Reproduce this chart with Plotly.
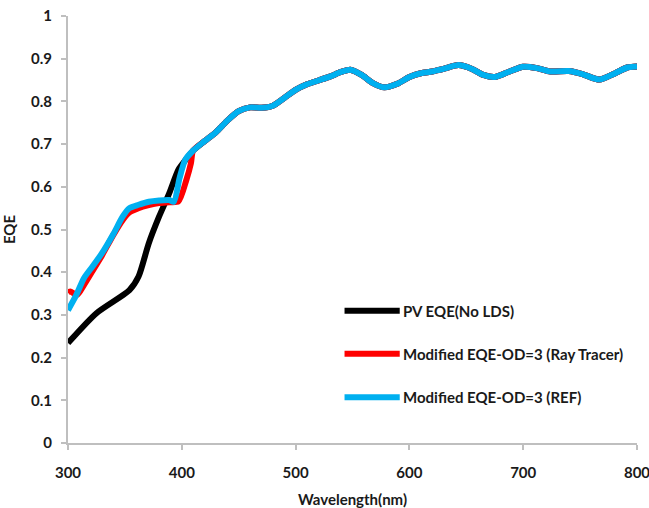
import plotly.graph_objects as go

# Shared upper part (all three curves coincide above ~410 nm)
wl_common = [410, 420, 430, 440, 450, 460, 470, 480, 490, 500, 510, 520, 530, 540, 548,
             558, 568, 578, 590, 600, 610, 620, 630, 643, 655, 665, 675, 688, 700, 712,
             724, 740, 752, 767, 780, 792, 800]
eqe_common = [0.685, 0.707, 0.728, 0.755, 0.777, 0.786, 0.785, 0.790, 0.808, 0.827, 0.840,
              0.849, 0.858, 0.869, 0.874, 0.862, 0.843, 0.833, 0.842, 0.857, 0.866, 0.870,
              0.876, 0.885, 0.876, 0.862, 0.857, 0.870, 0.881, 0.878, 0.870, 0.871, 0.864,
              0.851, 0.865, 0.880, 0.882]

wl_pv_low = [300, 325, 354, 362, 371, 380, 389, 397, 403]
eqe_pv_low = [0.234, 0.304, 0.358, 0.390, 0.468, 0.530, 0.585, 0.640, 0.662]

wl_ray_low = [300, 302, 308, 314, 322, 330, 340, 348, 354, 362, 371, 380, 389, 397, 404, 408]
eqe_ray_low = [0.352, 0.355, 0.347, 0.370, 0.405, 0.440, 0.488, 0.522, 0.540, 0.550, 0.557,
               0.562, 0.564, 0.566, 0.616, 0.655]

wl_ref_low = [300, 307, 314, 322, 330, 340, 348, 354, 362, 371, 380, 389, 393, 398, 403]
eqe_ref_low = [0.311, 0.345, 0.386, 0.415, 0.445, 0.490, 0.530, 0.550, 0.558, 0.565, 0.568,
               0.569, 0.565, 0.620, 0.663]

series_names = ["PV EQE(No LDS)", "Modified EQE-OD=3 (Ray Tracer)", "Modified EQE-OD=3 (REF)"]
series_colors = ["#000000", "#ff0000", "#00b0f0"]

x_ticks = [300, 400, 500, 600, 700, 800]
y_ticks = [0, 0.1, 0.2, 0.3, 0.4, 0.5, 0.6, 0.7, 0.8, 0.9, 1]
y_tick_text = ["0", "0.1", "0.2", "0.3", "0.4", "0.5", "0.6", "0.7", "0.8", "0.9", "1"]

FONT = "Lato"
FS = 15

series = [
    (wl_pv_low + wl_common, eqe_pv_low + eqe_common),
    (wl_ray_low + wl_common, eqe_ray_low + eqe_common),
    (wl_ref_low + wl_common, eqe_ref_low + eqe_common),
]

fig = go.Figure()
for (x, y), name, col in zip(series, series_names, series_colors):
    fig.add_trace(go.Scatter(x=x, y=y, mode="lines", name=name,
                             line=dict(color=col, width=6, shape="spline", smoothing=0.7),
                             showlegend=False, cliponaxis=False))

# custom legend (lines longer than plotly's default legend symbols)
leg_x0, leg_x1 = 0.486, 0.583
leg_rows = [0.31, 0.209, 0.107]
shapes = []
annotations = []
for name, col, yy in zip(series_names, series_colors, leg_rows):
    shapes.append(dict(type="line", xref="paper", yref="paper", x0=leg_x0, x1=leg_x1,
                       y0=yy, y1=yy, line=dict(color=col, width=6)))
    annotations.append(dict(xref="paper", yref="paper", x=leg_x1 + 0.003, y=yy,
                            xanchor="left", yanchor="middle", text=name, showarrow=False,
                            font=dict(family=FONT, size=FS, color="#1a1a1a", weight="bold")))

fig.update_layout(
    width=649, height=508,
    margin=dict(l=68, r=12, t=16, b=65),
    paper_bgcolor="white", plot_bgcolor="white",
    font=dict(family=FONT, size=FS, color="#1a1a1a", weight="bold"),
    shapes=shapes, annotations=annotations,
    xaxis=dict(range=[300, 800], tickvals=x_ticks, showgrid=False, zeroline=False,
               showline=True, linecolor="#bfbfbf", linewidth=2, ticks="outside",
               tickcolor="#bfbfbf", ticklen=5, tickwidth=2, ticklabelstandoff=10,
               ticklabeloverflow="allow", automargin=False,
               title=dict(text="Wavelength(nm)", standoff=16,
                          font=dict(family=FONT, size=FS, weight="bold"))),
    yaxis=dict(range=[0, 1], tickvals=y_ticks, ticktext=y_tick_text, showgrid=False,
               zeroline=False, showline=True, linecolor="#bfbfbf", linewidth=2,
               ticks="outside", tickcolor="#bfbfbf", ticklen=5, tickwidth=2,
               ticklabelstandoff=6, automargin=False,
               title=dict(text="EQE", standoff=12,
                          font=dict(family=FONT, size=FS, weight="bold"))),
)

fig.write_html("out.html")
